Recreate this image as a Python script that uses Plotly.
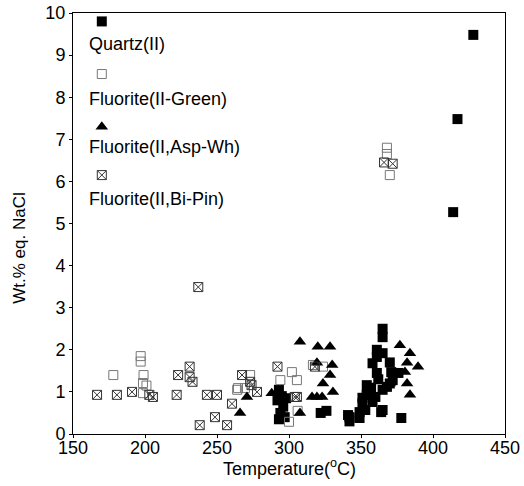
import plotly.graph_objects as go

# ---- data ----
quartz_T = [428, 417, 414, 293, 295, 292, 296, 294, 297, 293, 298, 322, 326, 341, 342,
            349, 351, 354, 357, 364, 378, 365, 365, 361, 361, 370, 365, 358, 371, 376,
            370, 372, 365, 368, 356, 354, 351, 360, 358, 353, 349, 342, 365, 361, 354, 362]
quartz_v = [9.48, 7.48, 5.27, 1.05, 0.9, 0.8, 0.65, 0.5, 0.4, 0.35, 0.85, 0.5, 0.55, 0.45, 0.3,
            0.52, 0.73, 0.93, 1.1, 0.52, 0.38, 2.5, 2.3, 2.0, 1.83, 1.7, 1.92, 1.68, 1.47, 1.45,
            1.2, 1.28, 1.05, 1.12, 1.05, 0.93, 0.86, 0.88, 0.76, 0.57, 0.38, 0.4, 0.57, 1.45, 1.16, 1.3]

green_T = [368, 368, 370, 198.6, 198.6, 264, 178, 197, 197, 199, 201, 273, 264.6, 269.4,
           294, 302, 305.5, 306, 300, 323.6, 316.6]
green_v = [6.8, 6.65, 6.15, 1.21, 0.97, 1.05, 1.4, 1.85, 1.72, 1.4, 1.15, 1.4, 1.09, 1.09,
           1.28, 1.47, 1.28, 0.55, 0.29, 1.6, 1.64]

asp_T = [307.6, 320, 328.5, 319.4, 330, 328.5, 323.6, 330.5, 319.4, 323, 288, 307.6, 266,
         270.8, 316, 370, 382, 384, 377, 384, 382, 389.6, 380.5]
asp_v = [2.19, 2.07, 2.07, 1.69, 1.64, 1.4, 1.2, 1.0, 0.88, 0.88, 0.97, 0.5, 0.5,
         0.88, 0.88, 1.2, 1.2, 0.93, 2.11, 1.92, 1.69, 1.6, 1.47]

bipin_T = [366, 372, 166.7, 180.5, 191, 205.5, 222, 243, 250, 260.4, 233, 238, 248.6, 257,
           305.5, 237, 231, 223, 231, 267.4, 273, 274, 277.8, 292, 318, 304, 203]
bipin_v = [6.45, 6.42, 0.93, 0.93, 1.0, 0.88, 0.93, 0.93, 0.93, 0.72, 1.24, 0.21, 0.4, 0.21,
           0.88, 3.49, 1.6, 1.4, 1.35, 1.4, 1.24, 1.16, 1.0, 1.6, 1.6, 0.88, 0.93]

# in-plot key
key_labels = ["Quartz(II)", "Fluorite(II-Green)", "Fluorite(II,Asp-Wh)", "Fluorite(II,Bi-Pin)"]
key_marker_T = 170
key_marker_v = [9.8, 8.55, 7.3, 6.15]
key_text_T = 160
key_text_v = [9.27, 7.95, 6.82, 5.58]

x_ticks = [150, 200, 250, 300, 350, 400, 450]
y_ticks = list(range(0, 11))

styles = [
    dict(symbol="square", size=10, color="black", line=dict(width=0)),
    dict(symbol="square-open", size=9, color="#777777", line=dict(width=1, color="#777777")),
    dict(symbol="triangle-up", size=11, color="black", line=dict(width=0)),
    dict(symbol="square-x-open", size=9, color="#333333", line=dict(width=1, color="#333333")),
]

fig = go.Figure()
series = [(quartz_T, quartz_v), (green_T, green_v), (asp_T, asp_v), (bipin_T, bipin_v)]
for (xs, ys), st, name in zip(series, styles, key_labels):
    fig.add_trace(go.Scatter(x=xs, y=ys, mode="markers", marker=st, name=name, showlegend=False))

for st, kv, kt, lab in zip(styles, key_marker_v, key_text_v, key_labels):
    fig.add_trace(go.Scatter(x=[key_marker_T], y=[kv], mode="markers", marker=st, showlegend=False))
    fig.add_annotation(x=key_text_T, y=kt, text=lab, showarrow=False, xanchor="left",
                       yanchor="middle", font=dict(size=18, color="black"))

# axis titles as annotations for exact placement
fig.add_annotation(x=0.5, y=0, xref="paper", yref="paper", yanchor="top", yshift=-20,
                   text="Temperature(<sup>o</sup>C)", showarrow=False,
                   font=dict(size=18, color="black"))
fig.add_annotation(x=-0.123, y=0.442, xref="paper", yref="paper", textangle=-90,
                   xanchor="center", yanchor="middle", text="Wt.% eq. NaCl", showarrow=False,
                   font=dict(size=17, color="black"))

axis_common = dict(showgrid=False, zeroline=False, showline=True, linecolor="black",
                   linewidth=1, mirror=True, ticks="outside", ticklen=3, tickcolor="black",
                   tickfont=dict(size=18, color="black"), automargin=False,
                   ticklabeloverflow="allow")

fig.update_layout(
    width=524, height=486,
    margin=dict(l=73, r=19, t=13, b=52),
    paper_bgcolor="white", plot_bgcolor="white",
    font=dict(family="Liberation Sans, Arial, sans-serif", color="black"),
    xaxis=dict(range=[150, 450], tickvals=x_ticks, ticklabelstandoff=-6, **axis_common),
    yaxis=dict(range=[0, 10], tickvals=y_ticks, **axis_common),
)

# remove the default page margin so the figure fills the 524x486 window exactly
fig.write_html("out.html", config={"displayModeBar": False},
               post_script="document.body.style.margin='0';document.body.style.overflow='hidden';")
